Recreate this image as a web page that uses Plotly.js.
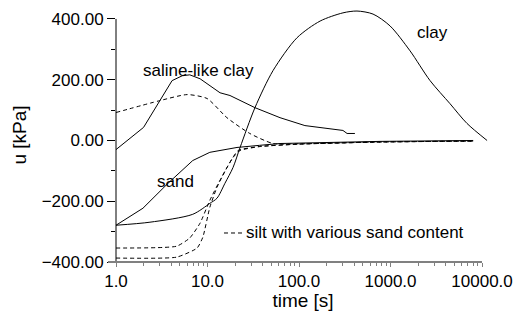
<!DOCTYPE html>
<html>
<head>
<meta charset="utf-8">
<script src="https://cdn.plot.ly/plotly-3.0.1.min.js"></script>
<style>html,body{margin:0;padding:0;background:#fff;}#chart{width:521px;height:311px;}</style>
</head>
<body>
<div id="chart"></div>
<script>
// time [s] and pore pressure u [kPa]
const clayT = [1, 2.35, 6.9, 10.6, 12.7, 15.5, 19, 22.7, 33, 52, 95, 170, 302, 430, 644, 988, 1634, 2703, 4470, 6850, 11350];
const clayU = [-279, -269, -243, -207, -190, -141, -89, -23, 108, 230, 338, 393, 420, 426, 416, 377, 295, 197, 121, 56, 0];

const salineSolidT = [1, 2, 4.1, 5.3, 6.4, 8.3, 13.7, 17.6, 33, 62, 116, 302, 335, 408];
const salineSolidU = [-30, 43, 197, 213, 216, 203, 157, 148, 108, 75, 49, 33, 23, 23];

const salineDashT = [1, 3.0, 6.0, 9.9, 16.3, 29, 52, 100, 770, 8000];
const salineDashU = [92, 131, 151, 138, 75, 23, -10, -11, -5, -2];

const sandT = [1, 1.97, 3.7, 6.9, 10.6, 21, 37, 62, 770, 8000];
const sandU = [-279, -223, -141, -66, -39, -23, -16, -10, -3, 0];

const silt1T = [1, 4.6, 6.4, 8.3, 10.6, 13.7, 19, 22.7, 37, 100, 770, 8000];
const silt1U = [-354, -348, -321, -272, -197, -131, -56, -33, -20, -12, -5, -2];

const silt2T = [1, 4.6, 7.7, 8.9, 10.6, 12.7, 16.3, 21.6, 37, 100, 770, 8000];
const silt2U = [-387, -384, -354, -318, -220, -154, -89, -33, -20, -12, -5, -2];

const xTickVals = [1, 10, 100, 1000, 10000];
const xTickText = ['1.0', '10.0', '100.0', '1000.0', '10000.0'];

const labelClay = 'clay';
const labelSaline = 'saline-like clay';
const labelSand = 'sand';
const labelSilt = 'silt with various sand content';

const FONT = 'Liberation Sans, Arial, sans-serif';
const solid = {color: '#000', width: 1};
const dashed = {color: '#000', width: 1, dash: '4px,3px'};

const traces = [
  {x: clayT, y: clayU, mode: 'lines', line: Object.assign({shape: 'spline', smoothing: 0.8}, solid), name: labelClay},
  {x: salineSolidT, y: salineSolidU, mode: 'lines', line: solid, name: labelSaline},
  {x: salineDashT, y: salineDashU, mode: 'lines', line: Object.assign({shape: 'spline', smoothing: 0.6}, dashed), name: labelSaline + ' (2)'},
  {x: sandT, y: sandU, mode: 'lines', line: solid, name: labelSand},
  {x: silt1T, y: silt1U, mode: 'lines', line: Object.assign({shape: 'spline', smoothing: 0.5}, dashed), name: labelSilt + ' 1'},
  {x: silt2T, y: silt2U, mode: 'lines', line: Object.assign({shape: 'spline', smoothing: 0.5}, dashed), name: labelSilt + ' 2'}
];

const layout = {
  width: 521, height: 311,
  margin: {l: 116, r: 31, t: 8, b: 49},
  paper_bgcolor: '#fff', plot_bgcolor: '#fff',
  showlegend: false,
  font: {family: FONT, color: '#000', size: 17},
  xaxis: {
    type: 'log', range: [0, 4.087],
    tickmode: 'array', tickvals: xTickVals, ticktext: xTickText,
    ticks: 'outside', ticklen: 4, tickcolor: '#808080', tickwidth: 1,
    minor: {ticks: 'outside', ticklen: 3, tickcolor: '#808080', dtick: 'D1', showgrid: false},
    showline: false, showgrid: false, zeroline: false,
    tickfont: {family: FONT, size: 17, color: '#000'},
    title: {text: 'time [s]', font: {family: FONT, size: 19, color: '#000'}},
    automargin: false
  },
  yaxis: {
    range: [-400, 436],
    tick0: 0, dtick: 200, tickformat: '.2f',
    ticks: 'outside', ticklen: 8, tickcolor: '#000', tickwidth: 1,
    minor: {dtick: 100, ticks: 'outside', ticklen: 4, tickcolor: '#000', showgrid: false},
    showline: false, showgrid: false, zeroline: false,
    tickfont: {family: FONT, size: 17, color: '#000'},
    title: {text: 'u [kPa]', font: {family: FONT, size: 19, color: '#000'}, standoff: 10},
    automargin: true
  },
  shapes: [
    {type: 'line', xref: 'paper', yref: 'y', x0: 0, x1: 0, y0: -400, y1: 400, line: {color: '#000', width: 1}},
    {type: 'line', xref: 'paper', yref: 'paper', x0: -0.0214, x1: 0.9786, y0: 0, y1: 0, line: {color: '#808080', width: 2}},
    {type: 'line', xref: 'paper', yref: 'paper', x0: 0.2888, x1: 0.3369, y0: 0.1142, y1: 0.1142, line: {color: '#000', width: 1, dash: '4px,3px'}}
  ],
  annotations: [
    {text: labelSaline, xref: 'paper', yref: 'paper', x: 0.2193, y: 0.7559, showarrow: false, xanchor: 'center', yanchor: 'middle', font: {family: FONT, size: 17, color: '#000'}},
    {text: labelClay, xref: 'paper', yref: 'paper', x: 0.845, y: 0.9016, showarrow: false, xanchor: 'center', yanchor: 'middle', font: {family: FONT, size: 17, color: '#000'}},
    {text: labelSand, xref: 'paper', yref: 'paper', x: 0.1604, y: 0.315, showarrow: false, xanchor: 'center', yanchor: 'middle', font: {family: FONT, size: 17, color: '#000'}},
    {text: labelSilt, xref: 'paper', yref: 'paper', x: 0.3422, y: 0.1142, showarrow: false, xanchor: 'left', yanchor: 'middle', font: {family: FONT, size: 17, color: '#000'}}
  ]
};

Plotly.newPlot('chart', traces, layout, {staticPlot: true, displayModeBar: false});
</script>
</body>
</html>
